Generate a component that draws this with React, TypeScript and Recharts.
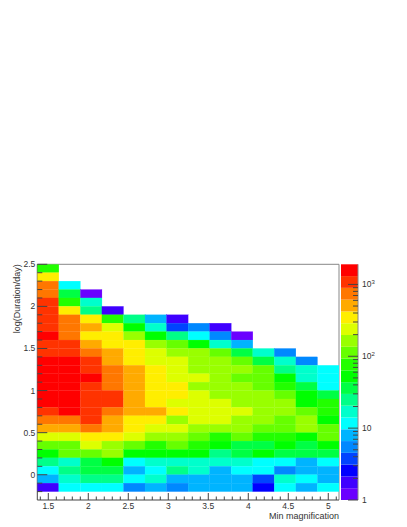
import React from 'react';
import { ScatterChart, Scatter, XAxis, YAxis, ReferenceLine, ReferenceArea, ComposedChart, Label } from 'recharts';

const xCenters = [1.497, 1.766, 2.036, 2.305, 2.575, 2.844, 3.113, 3.383, 3.652, 3.922, 4.191, 4.46, 4.73, 4.999];
const yCenters = [2.45, 2.35, 2.25, 2.15, 2.05, 1.95, 1.85, 1.75, 1.65, 1.55, 1.45, 1.35, 1.25, 1.15, 1.05, 0.95, 0.85, 0.75, 0.65, 0.55, 0.45, 0.35, 0.25, 0.15, 0.05, -0.05, -0.15];
// counts per cell, top row first; rows end where the histogram is empty
const counts = [
  [77],
  [348],
  [741, 12],
  [741, 36, 1.2],
  [1081, 77, 17],
  [1081, 348, 25, 1.8],
  [1081, 741, 348, 77, 25, 8, 1.8],
  [1081, 741, 508, 239, 53, 17, 3.8, 5.5, 1.8],
  [1578, 741, 348, 348, 164, 53, 25, 12, 5.5, 1.2],
  [1081, 1081, 508, 348, 348, 164, 112, 53, 17, 8],
  [1081, 1081, 741, 508, 348, 239, 164, 164, 112, 36, 17, 5.5],
  [1578, 1578, 1081, 508, 348, 239, 239, 164, 164, 112, 36, 17, 5.5],
  [1578, 1578, 1081, 741, 508, 348, 239, 164, 164, 164, 112, 25, 17, 12],
  [1578, 1578, 1578, 741, 508, 348, 239, 239, 164, 112, 112, 53, 17, 12],
  [1578, 1578, 1081, 741, 508, 348, 348, 164, 164, 164, 112, 77, 36, 12],
  [1578, 1578, 1081, 1081, 508, 348, 348, 239, 164, 164, 164, 112, 53, 36],
  [1578, 1578, 1081, 1081, 508, 348, 239, 239, 239, 164, 164, 164, 53, 77],
  [1081, 1578, 1081, 741, 508, 508, 348, 239, 239, 239, 164, 164, 112, 77],
  [741, 741, 1081, 508, 348, 348, 164, 239, 239, 164, 164, 112, 164, 53],
  [508, 508, 741, 508, 348, 239, 239, 164, 164, 164, 112, 112, 164, 112],
  [239, 239, 348, 348, 239, 164, 164, 112, 77, 112, 77, 77, 53, 112],
  [112, 112, 239, 164, 112, 77, 112, 77, 53, 36, 36, 53, 36, 53],
  [53, 112, 112, 164, 53, 53, 53, 53, 25, 36, 53, 36, 36, 36],
  [25, 17, 36, 53, 12, 17, 17, 17, 17, 17, 12, 12, 8, 12],
  [12, 25, 36, 36, 8, 12, 25, 17, 8, 12, 12, 5.5, 8, 8],
  [8, 17, 25, 25, 12, 17, 8, 8, 8, 8, 3.8, 17, 12, 8],
  [1.8, 12, 12, 12, 5.5, 8, 5.5, 8, 8, 8, 2.6, 12, 8, 12],
];
const xTicks = [1.4, 1.5, 1.6, 1.7, 1.8, 1.9, 2, 2.1, 2.2, 2.3, 2.4, 2.5, 2.6, 2.7, 2.8, 2.9, 3, 3.1, 3.2, 3.3, 3.4, 3.5, 3.6, 3.7, 3.8, 3.9, 4, 4.1, 4.2, 4.3, 4.4, 4.5, 4.6, 4.7, 4.8, 4.9, 5, 5.1];
const yTicks = [-0.2, -0.1, 0, 0.1, 0.2, 0.3, 0.4, 0.5, 0.6, 0.7, 0.8, 0.9, 1, 1.1, 1.2, 1.3, 1.4, 1.5, 1.6, 1.7, 1.8, 1.9, 2, 2.1, 2.2, 2.3, 2.4, 2.5];
const xMajor = [1.5, 2, 2.5, 3, 3.5, 4, 4.5, 5];
const yMajor = [0, 0.5, 1, 1.5, 2, 2.5];
const palette = ['#6a00ff', '#3f00ff', '#0000ff', '#0044ff', '#0088ff', '#00b4ff', '#00ffff', '#00ffcc', '#00ff88', '#00ff44', '#00ff00', '#22ff00', '#66ff00', '#99ff00', '#ddff00', '#ffee00', '#ffaa00', '#ff7700', '#ff3300', '#ff0000'];
const levelEdges = [1, 1.459, 2.128, 3.105, 4.529, 6.607, 9.638, 14.06, 20.51, 29.92, 43.65, 63.68, 92.9, 135.5, 197.7, 288.4, 420.7, 613.8, 895.4, 1306, 1905];
const zMajor = [1, 10, 100, 1000];
const zTicks = [1, 2, 3, 4, 5, 6, 7, 8, 9, 10, 20, 30, 40, 50, 60, 70, 80, 90, 100, 200, 300, 400, 500, 600, 700, 800, 900, 1000];
const zLabels = { 1: ['1'], 10: ['10'], 100: ['10', '2'], 1000: ['10', '3'] } as Record<number, string[]>;

const W = 407, H = 527;
const LEFT = 37.3, RIGHT = 339, TOP = 264.3, BOTTOM = 500;
const XMIN = 1.3625, XMAX = 5.134;
const cellW = (RIGHT - LEFT) / xCenters.length;
const cellH = (BOTTOM - TOP) / 28;
const FONT = '"Liberation Sans", Arial, sans-serif';
const INK = '#333';

const cells = counts.flatMap((row, r) => row.map((count, c) => ({ x: xCenters[c], y: yCenters[r], count })));
const colorOf = (v: number) => {
  let i = 0;
  while (i < palette.length - 1 && v >= levelEdges[i + 1]) i++;
  return palette[i];
};

const CellShape = (p: any) => {
  const fill = colorOf(p.payload.count);
  return <rect x={p.cx - cellW / 2} y={p.cy - cellH / 2} width={cellW} height={cellH} fill={fill} stroke={fill} strokeWidth={0.25} />;
};

const XTick = (p: any) => {
  const major = xMajor.includes(p.payload.value);
  return (
    <g>
      <line x1={p.x} x2={p.x} y1={p.y} y2={p.y - (major ? 7 : 3.5)} stroke="#444" />
      {major && <text x={p.x} y={p.y + 8.5} textAnchor="middle" fontSize={8.5} fontFamily={FONT} fill={INK}>{String(p.payload.value)}</text>}
    </g>
  );
};
const YTick = (p: any) => {
  const major = yMajor.includes(p.payload.value);
  return (
    <g>
      <line x1={p.x} x2={p.x + (major ? 10 : 5)} y1={p.y} y2={p.y} stroke="#444" />
      {major && <text x={p.x - 2} y={p.y + 3} textAnchor="end" fontSize={8.5} fontFamily={FONT} fill={INK}>{String(p.payload.value)}</text>}
    </g>
  );
};
const ZTick = (p: any) => {
  const v = p.payload.value;
  const major = zMajor.includes(v);
  const lab = zLabels[v];
  return (
    <g>
      <line x1={p.x} x2={p.x - (major ? 10 : 5)} y1={p.y} y2={p.y} stroke="#444" />
      {lab && (
        <text x={p.x + 4} y={p.y + 3} fontSize={8.5} fontFamily={FONT} fill={INK}>
          {lab[0]}
          {lab[1] && <tspan dy={-3} fontSize={6}>{lab[1]}</tspan>}
        </text>
      )}
    </g>
  );
};

const XTitle = () => (
  <text x={RIGHT} y={518.5} textAnchor="end" fontSize={9} fontFamily={FONT} fill={INK}>Min magnification</text>
);
const YTitle = () => (
  <text transform={`translate(20 ${TOP}) rotate(-90)`} textAnchor="end" fontSize={9} fontFamily={FONT} fill={INK}>log(Duration/day)</text>
);

export default function App() {
  return (
    <div style={{ position: 'absolute', left: 0, top: 0, width: W, height: H, background: '#fff' }}>
      <div style={{ position: 'absolute', left: 0, top: 0 }}>
        <ScatterChart width={W} height={H} margin={{ left: 0, right: W - RIGHT, top: TOP, bottom: 0 }}>
          <XAxis
            type="number"
            dataKey="x"
            domain={[XMIN, XMAX]}
            allowDataOverflow
            ticks={xTicks}
            interval={0}
            tickSize={0}
            tickMargin={0}
            height={H - BOTTOM}
            tick={XTick}
            axisLine={{ stroke: '#444' }}
            tickLine={false}
          >
            <Label content={XTitle} />
          </XAxis>
          <YAxis
            type="number"
            dataKey="y"
            domain={[-0.3, 2.5]}
            allowDataOverflow
            ticks={yTicks}
            interval={0}
            tickSize={0}
            tickMargin={0}
            width={LEFT}
            tick={YTick}
            axisLine={{ stroke: '#444' }}
            tickLine={false}
          >
            <Label content={YTitle} />
          </YAxis>
          <Scatter data={cells} shape={CellShape} isAnimationActive={false} />
          <ReferenceLine y={2.5} stroke="#888" />
          <ReferenceLine x={XMAX} stroke="#888" />
        </ScatterChart>
      </div>
      <div style={{ position: 'absolute', left: 0, top: 0 }}>
        <ComposedChart width={W} height={H} data={[{ x: 0 }, { x: 1 }]} margin={{ left: 341, right: 0, top: TOP, bottom: H - BOTTOM }}>
          <XAxis type="number" dataKey="x" domain={[0, 1]} hide />
          <YAxis
            yAxisId="z"
            orientation="right"
            scale="log"
            type="number"
            domain={[1, 1905]}
            allowDataOverflow
            ticks={zTicks}
            interval={0}
            tickSize={0}
            tickMargin={0}
            width={W - 358}
            tick={ZTick}
            axisLine={{ stroke: '#888' }}
            tickLine={false}
          />
          {palette.map((color, i) => (
            <ReferenceArea key={color} yAxisId="z" y1={levelEdges[i]} y2={levelEdges[i + 1]} fill={color} fillOpacity={1} stroke="none" />
          ))}
        </ComposedChart>
      </div>
    </div>
  );
}
